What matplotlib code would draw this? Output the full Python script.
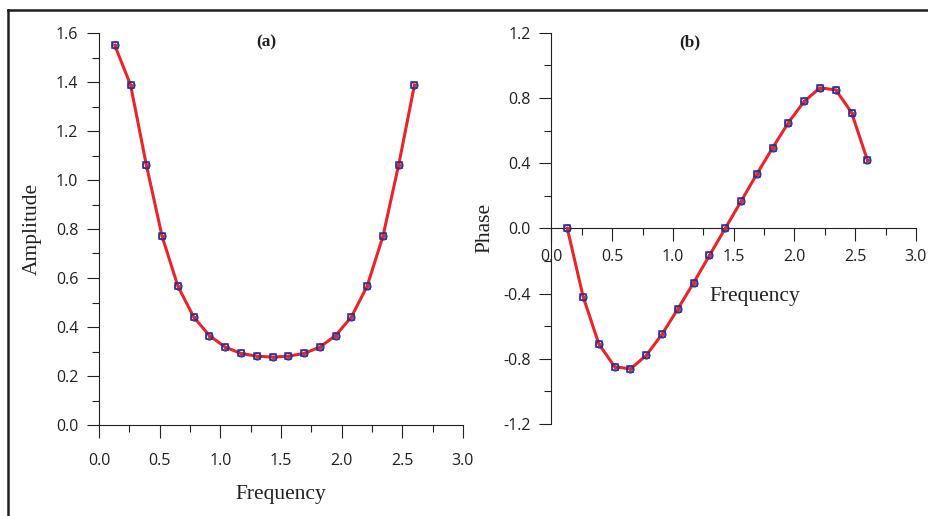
import matplotlib.pyplot as plt
from matplotlib.ticker import MultipleLocator
from matplotlib.lines import Line2D

freq = [0.13, 0.26, 0.39, 0.52, 0.65, 0.78, 0.91, 1.04, 1.17, 1.30,
        1.43, 1.56, 1.69, 1.82, 1.95, 2.08, 2.21, 2.34, 2.47, 2.60]
amplitude = [1.55, 1.388, 1.062, 0.770, 0.567, 0.441, 0.365, 0.318, 0.292, 0.281,
             0.277, 0.281, 0.292, 0.318, 0.365, 0.441, 0.567, 0.770, 1.062, 1.388]
phase = [0.0, -0.418, -0.710, -0.849, -0.862, -0.779, -0.649, -0.494, -0.333, -0.166,
         0.0, 0.166, 0.333, 0.494, 0.649, 0.779, 0.862, 0.849, 0.710, 0.418]
x_ticks = [0, 0.5, 1.0, 1.5, 2.0, 2.5, 3.0]
x_labels = ['0.0', '0.5', '1.0', '1.5', '2.0', '2.5', '3.0']
amp_ticks = [0, 0.2, 0.4, 0.6, 0.8, 1.0, 1.2, 1.4, 1.6]
amp_labels = ['0.0', '0.2', '0.4', '0.6', '0.8', '1.0', '1.2', '1.4', '1.6']
ph_ticks = [-1.2, -0.8, -0.4, 0.0, 0.4, 0.8, 1.2]
ph_labels = ['-1.2', '-0.8', '-0.4', '0.0', '0.4', '0.8', '1.2']

W, H = 929, 516
fig = plt.figure(figsize=(W / 100, H / 100), dpi=100)

tick_font = 'Open Sans'
serif = 'Liberation Serif'
red = '#e8262a'
blue = '#2e3192'
ink = '#231f20'


def box(x0, x1, y_top, y_bot):
    return [x0 / W, 1 - y_bot / H, (x1 - x0) / W, (y_bot - y_top) / H]


def style(ax):
    for s in ['top', 'right']:
        ax.spines[s].set_visible(False)
    for s in ['left', 'bottom']:
        ax.spines[s].set_linewidth(0.8)
        ax.spines[s].set_color(ink)
    ax.xaxis.set_minor_locator(MultipleLocator(0.25))
    ax.tick_params(which='major', direction='out', length=9, width=0.8,
                   labelsize=11.5, color=ink, labelcolor=ink)
    ax.tick_params(which='minor', direction='out', length=4.8, width=0.8, color=ink)
    ax.tick_params(axis='y', pad=6)
    for lab in ax.get_xticklabels() + ax.get_yticklabels():
        lab.set_fontfamily(tick_font)
    ax.set_facecolor('none')


def series(ax, y):
    ax.plot(freq, y, color=red, lw=2.2, zorder=2)
    ax.plot(freq, y, ls='none', marker='s', ms=5, mfc='none', mec=blue, mew=1.1, zorder=3)
    ax.plot(freq, y, ls='none', marker='o', ms=5, mfc='none', mec=blue, mew=0.9, zorder=3)
    ax.plot(freq, y, ls='none', marker='o', ms=1.5, color=red, zorder=4)


# panel (a)
ax1 = fig.add_axes(box(99, 463, 33, 425))
series(ax1, amplitude)
ax1.set_xlim(0, 3.0)
ax1.set_ylim(0, 1.6)
ax1.set_xticks(x_ticks)
ax1.set_xticklabels(x_labels)
ax1.set_yticks(amp_ticks)
ax1.set_yticklabels(amp_labels)
ax1.yaxis.set_minor_locator(MultipleLocator(0.1))
style(ax1)
ax1.tick_params(axis='x', pad=11)
ax1.set_xlabel('Frequency', fontfamily=serif, fontsize=15.5, color=ink)
ax1.xaxis.set_label_coords(0.5, -0.152)
ax1.set_ylabel('Amplitude', fontfamily=serif, fontsize=15.5, color=ink)
ax1.yaxis.set_label_coords(-0.157, 0.5)
ax1.text(0.46, 0.975, '(a)', transform=ax1.transAxes, fontfamily=serif,
         fontweight='bold', fontsize=12.5, ha='center', va='center', color=ink)

# panel (b)
ax2 = fig.add_axes(box(551.5, 916, 32.7, 424))
series(ax2, phase)
ax2.set_xlim(0, 3.0)
ax2.set_ylim(-1.2, 1.2)
ax2.spines['bottom'].set_position(('data', 0))
ax2.set_xticks(x_ticks)
ax2.set_xticklabels(x_labels)
ax2.set_yticks(ph_ticks)
ax2.set_yticklabels(ph_labels)
ax2.yaxis.set_minor_locator(MultipleLocator(0.2))
style(ax2)
ax2.tick_params(axis='x', pad=6)
ax2.set_ylabel('Phase', fontfamily=serif, fontsize=15.5, color=ink)
ax2.yaxis.set_label_coords(-0.157, 0.5)
ax2.text(1.67, -0.42, 'Frequency', fontfamily=serif, fontsize=15.5,
         ha='center', va='center', color=ink)
ax2.text(0.38, 0.975, '(b)', transform=ax2.transAxes, fontfamily=serif,
         fontweight='bold', fontsize=12.5, ha='center', va='center', color=ink)

# frame border (left and top visible)
fig.add_artist(Line2D([8 / W, 8 / W], [0, 1 - 10 / H], transform=fig.transFigure,
                      color=ink, lw=1.8))
fig.add_artist(Line2D([8 / W, 1], [1 - 10 / H, 1 - 10 / H], transform=fig.transFigure,
                      color=ink, lw=1.8))

fig.savefig('out.png', dpi=100)
